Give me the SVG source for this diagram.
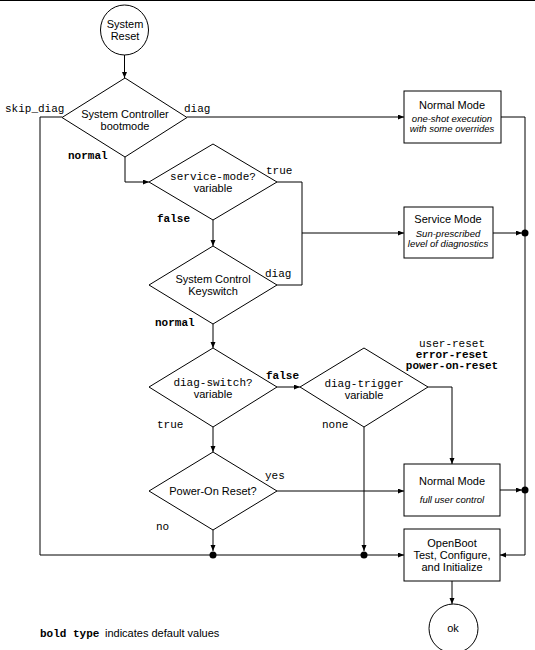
<svg xmlns="http://www.w3.org/2000/svg" width="535" height="650" viewBox="0 0 535 650">
<style>
.s{fill:none;stroke:#000;stroke-width:1}
.n{fill:#fff;stroke:#000;stroke-width:1}
.t{font-family:"Liberation Sans",Arial,sans-serif;font-size:11px;fill:#000}
.c{text-anchor:middle}
.i{font-family:"Liberation Sans",Arial,sans-serif;font-size:9.5px;font-style:italic;fill:#000;text-anchor:middle}
.m{font-family:"Liberation Mono","Courier New",monospace;font-size:11px;fill:#000}
.b{font-weight:bold}
.d{fill:#000}
</style>
<defs>
<marker id="a" markerUnits="userSpaceOnUse" markerWidth="7" markerHeight="6" refX="6" refY="2.5" orient="auto">
<path d="M0,0 L6,2.5 L0,5 z" fill="#000"/>
</marker>
</defs>
<line x1="0" y1="0.5" x2="535" y2="0.5" class="s"/>
<g id="connectors">
<path class="s" d="M124.5,55 V78" marker-end="url(#a)"/>
<path class="s" d="M187,117 H404" marker-end="url(#a)"/>
<path class="s" d="M62,117 H40 V555 H404" marker-end="url(#a)"/>
<path class="s" d="M125,157 V182 H149" marker-end="url(#a)"/>
<path class="s" d="M277,182 H302 V285 H277"/>
<path class="s" d="M302,233 H404" marker-end="url(#a)"/>
<path class="s" d="M213,220 V246" marker-end="url(#a)"/>
<path class="s" d="M213,324 V348" marker-end="url(#a)"/>
<path class="s" d="M277,387 H300" marker-end="url(#a)"/>
<path class="s" d="M428,387 H452 V464" marker-end="url(#a)"/>
<path class="s" d="M213,427 V452" marker-end="url(#a)"/>
<path class="s" d="M364,427 V551" marker-end="url(#a)"/>
<path class="s" d="M213,530 V551" marker-end="url(#a)"/>
<path class="s" d="M277,491 H404" marker-end="url(#a)"/>
<path class="s" d="M501,117 H525 V555 H500" marker-end="url(#a)"/>
<path class="s" d="M493,233 H522" marker-end="url(#a)"/>
<path class="s" d="M500,490 H522" marker-end="url(#a)"/>
<path class="s" d="M452,581 V604" marker-end="url(#a)"/>
<circle class="d" cx="213" cy="555" r="3.5"/>
<circle class="d" cx="364" cy="555" r="3.5"/>
<circle class="d" cx="525" cy="233" r="3.5"/>
<circle class="d" cx="525" cy="490" r="3.5"/>
</g>
<g id="system-reset">
<ellipse class="n" cx="124.5" cy="30" rx="24" ry="25"/>
<text class="t c" x="125" y="28">System</text>
<text class="t c" x="125" y="40">Reset</text>
</g>
<g id="bootmode">
<polygon class="n" points="125,78 187,117.5 125,157 62,117.5"/>
<text class="t c" x="125" y="118">System  Controller</text>
<text class="t c" x="125" y="130">bootmode</text>
<text class="m" x="5" y="112">skip_diag</text>
<text class="m" x="184" y="112">diag</text>
<text class="m b" x="68" y="159">normal</text>
</g>
<g id="normal-mode-1">
<rect class="n" x="404" y="91" width="97" height="52"/>
<text class="t c" x="452" y="109">Normal  Mode</text>
<text class="i" x="452" y="122">one-shot execution</text>
<text class="i" x="452" y="132">with some overrides</text>
</g>
<g id="service-mode-var">
<polygon class="n" points="213,144 277,182 213,220 149,182"/>
<text class="m c" x="213" y="180">service-mode?</text>
<text class="t c" x="213" y="192">variable</text>
<text class="m" x="266" y="174">true</text>
<text class="m b" x="157" y="222">false</text>
</g>
<g id="service-mode">
<rect class="n" x="404" y="207" width="89" height="51"/>
<text class="t c" x="448" y="223">Service  Mode</text>
<text class="i" x="448" y="237">Sun-prescribed</text>
<text class="i" x="448" y="247">level of diagnostics</text>
</g>
<g id="keyswitch">
<polygon class="n" points="213,246 277,285 213,324 149,285"/>
<text class="t c" x="213" y="283">System  Control</text>
<text class="t c" x="213" y="295">Keyswitch</text>
<text class="m" x="265" y="277">diag</text>
<text class="m b" x="155" y="326">normal</text>
</g>
<g id="diag-switch">
<polygon class="n" points="213,348 277,387 213,427 149,387"/>
<text class="m c" x="213" y="386">diag-switch?</text>
<text class="t c" x="213" y="398">variable</text>
<text class="m b" x="266" y="379">false</text>
<text class="m" x="157" y="428">true</text>
</g>
<g id="diag-trigger">
<polygon class="n" points="364,348 428,387 364,427 300,387"/>
<text class="m c" x="364" y="387">diag-trigger</text>
<text class="t c" x="364" y="399">variable</text>
<text class="m c" x="452" y="347">user-reset</text>
<text class="m b c" x="452" y="358">error-reset</text>
<text class="m b c" x="452" y="369">power-on-reset</text>
<text class="m" x="322" y="428">none</text>
</g>
<g id="power-on-reset">
<polygon class="n" points="213,452 277,491 213,530 149,491"/>
<text class="t c" x="213" y="495">Power-On  Reset?</text>
<text class="m" x="265" y="479">yes</text>
<text class="m" x="156" y="530">no</text>
</g>
<g id="normal-mode-2">
<rect class="n" x="404" y="464" width="96" height="52"/>
<text class="t c" x="452" y="485">Normal  Mode</text>
<text class="i" x="452" y="503">full user control</text>
</g>
<g id="openboot">
<rect class="n" x="404" y="529" width="96" height="52"/>
<text class="t c" x="452" y="547">OpenBoot</text>
<text class="t c" x="452" y="559">Test, Configure,</text>
<text class="t c" x="452" y="571">and  Initialize</text>
</g>
<g id="ok">
<circle class="n" cx="453.5" cy="628.5" r="24.5"/>
<text class="t c" x="453" y="632">ok</text>
</g>
<g id="legend">
<text class="m b" x="40" y="637">bold type</text>
<text class="t" x="105" y="637">indicates default values</text>
</g>
</svg>
